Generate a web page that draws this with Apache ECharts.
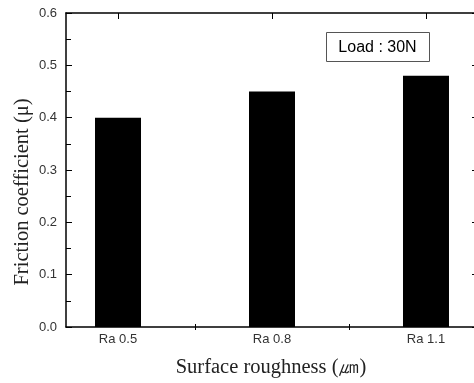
<!DOCTYPE html>
<html>
<head>
<meta charset="utf-8">
<script src="https://cdn.jsdelivr.net/npm/echarts@6/dist/echarts.min.js"></script>
<style>html,body{margin:0;padding:0;background:#fff}#c{width:474px;height:383px}</style>
</head>
<body>
<div id="c"></div>
<script>
const categories = ['Ra 0.5', 'Ra 0.8', 'Ra 1.1'];
const friction = [0.40, 0.45, 0.48];
const yTicks = ['0.0', '0.1', '0.2', '0.3', '0.4', '0.5', '0.6'];
const loadLabel = 'Load : 30N';
const xTitle = 'Surface roughness (㎛)';
const yTitle = 'Friction coefficient (μ)';

const positions = categories.map((c, i) => i + 1);
const midPositions = positions.slice(0, -1).map(p => p + 0.5);
const xMin = 0.6623, xMax = 3.3377;

const chart = echarts.init(document.getElementById('c'));
const lineStyle = { color: '#000', width: 1.5 };
chart.setOption({
  animation: false,
  grid: { left: 66, top: 13, right: -4, bottom: 56, containLabel: false, outerBoundsMode: 'none' },
  xAxis: [
    {
      type: 'value', position: 'bottom', min: xMin, max: xMax,
      axisLine: { show: true, onZero: false, lineStyle },
      axisTick: { show: true, inside: true, length: 3, customValues: midPositions, lineStyle: { color: '#000' } },
      axisLabel: {
        show: true, customValues: positions, margin: 6,
        color: '#333', fontFamily: 'Arial, "Liberation Sans"', fontSize: 13,
        formatter: v => categories[Math.round(v) - 1] || ''
      },
      splitLine: { show: false }
    },
    {
      type: 'value', position: 'top', min: xMin, max: xMax,
      axisLine: { show: true, onZero: false, lineStyle },
      axisTick: { show: true, inside: true, length: 6, customValues: positions, lineStyle: { color: '#000' } },
      axisLabel: { show: false },
      splitLine: { show: false }
    },
    {
      type: 'value', position: 'top', min: xMin, max: xMax,
      axisLine: { show: false },
      axisTick: { show: true, inside: true, length: 3, customValues: midPositions, lineStyle: { color: '#000' } },
      axisLabel: { show: false },
      splitLine: { show: false }
    }
  ],
  yAxis: [
    {
      type: 'value', position: 'left', min: 0, max: 0.6, interval: 0.1,
      axisLine: { show: true, lineStyle },
      axisTick: { show: true, inside: true, length: 6, lineStyle: { color: '#000' } },
      minorTick: { show: true, splitNumber: 2, length: 5, lineStyle: { color: '#000' } },
      axisLabel: {
        color: '#333', fontFamily: '"Liberation Sans Narrow", "Arial Narrow", Arial', fontSize: 13, margin: 9,
        formatter: v => yTicks[Math.round(v * 10)]
      },
      splitLine: { show: false }
    },
    {
      type: 'value', position: 'right', min: 0, max: 0.6, interval: 0.1,
      axisLine: { show: true, lineStyle },
      axisTick: { show: true, inside: true, length: 6, lineStyle: { color: '#000' } },
      axisLabel: { show: false },
      splitLine: { show: false }
    }
  ],
  series: [{
    type: 'bar',
    xAxisIndex: 0, yAxisIndex: 0,
    barWidth: 46,
    itemStyle: { color: '#000' },
    data: friction.map((v, i) => [positions[i], v])
  }],
  graphic: [
    {
      type: 'text', x: 23, y: 192, rotation: Math.PI / 2,
      style: { text: yTitle, font: '20.5px "Liberation Serif", "Times New Roman", serif', fill: '#222', align: 'center', verticalAlign: 'middle' }
    },
    {
      type: 'text', x: 271, y: 368,
      style: { text: xTitle, font: '20.5px "Liberation Serif", "Times New Roman", serif', fill: '#222', align: 'center', verticalAlign: 'middle' }
    },
    {
      type: 'rect', shape: { x: 326.5, y: 32.5, width: 103, height: 29 },
      style: { fill: '#fff', stroke: '#555', lineWidth: 1 }
    },
    {
      type: 'text', x: 377.5, y: 47.5,
      style: { text: loadLabel, font: '16px Arial, "Liberation Sans", sans-serif', fill: '#000', align: 'center', verticalAlign: 'middle' }
    }
  ]
});
</script>
</body>
</html>
